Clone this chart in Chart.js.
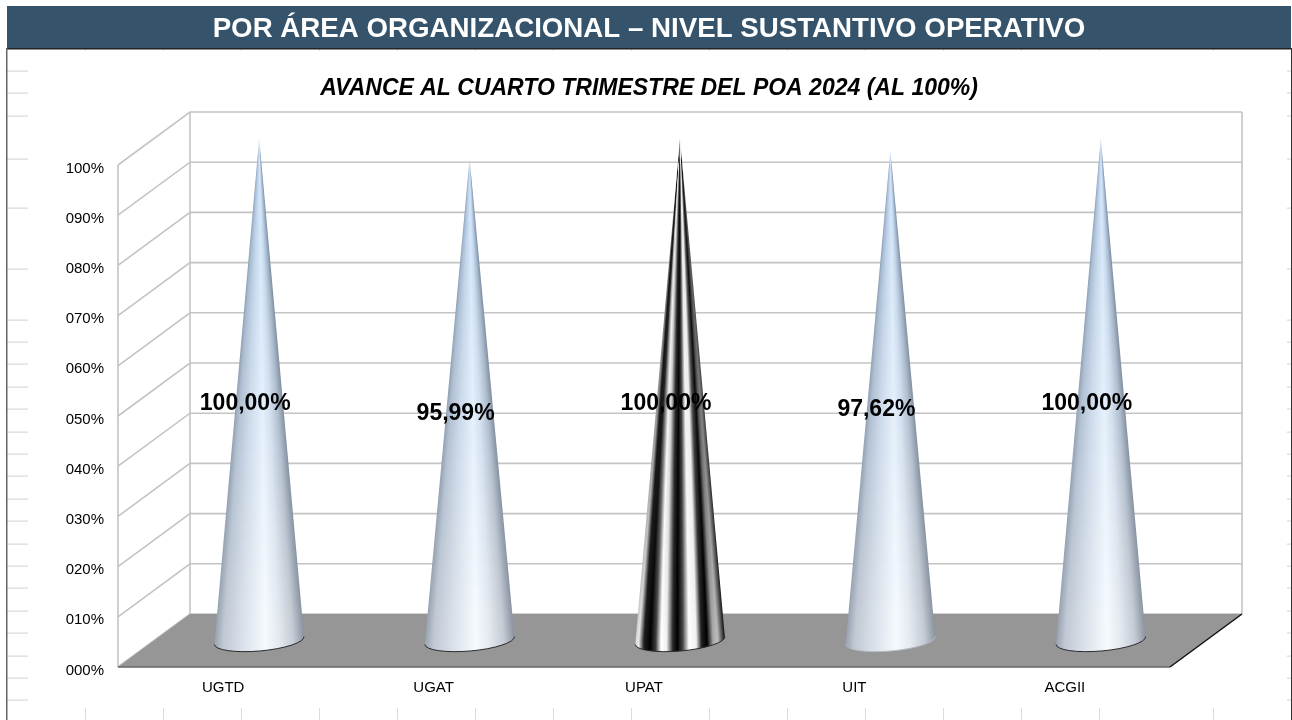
<!DOCTYPE html>
<html>
<head>
<meta charset="utf-8">
<style>
html,body{margin:0;padding:0;background:#fff;overflow:hidden}
canvas{position:absolute;left:6px;top:0;display:block}
</style>
<script src="https://cdn.jsdelivr.net/npm/chart.js@4"></script>
</head>
<body>
<canvas id="c" width="1286" height="720"></canvas>
<script>
const headerTitle = 'POR ÁREA ORGANIZACIONAL – NIVEL SUSTANTIVO OPERATIVO';
const chartTitle = 'AVANCE AL CUARTO TRIMESTRE DEL POA 2024 (AL 100%)';
const categories = ['UGTD', 'UGAT', 'UPAT', 'UIT', 'ACGII'];
const avance = [100, 95.99, 100, 97.62, 100];
const tickLabels = ['000%', '010%', '020%', '030%', '040%', '050%', '060%', '070%', '080%', '090%', '100%'];

const FONT = '"Liberation Sans", Arial, sans-serif';
const DX = 72, DY = 53;
const BASE_RX = 45, BASE_RY = 10.5, TILT = -5 * Math.PI / 180;
const OX = 6; // canvas offset on the page
const sideMarksY = [71,93,116,159,208,269,320,342,364,387,409,432,454,476,499,521,544,566,588,611,633,656,678,700];
const bottomMarksX = [85,163,241,319,397,475,553,631,709,787,865,943,1021,1099,1213];

const bluePos = [0, .1, .3, .57, .72, .88, 1];
const blueTop = [[136,158,182],[160,184,210],[188,210,234],[208,228,250],[190,212,236],[152,174,198],[120,140,162]];
const blueBot = [[150,160,174],[192,200,211],[216,223,232],[246,250,254],[228,233,240],[196,203,212],[140,149,162]];

const stripeTop = [[0,110],[.03,50],[.07,15],[.12,60],[.17,220],[.22,235],[.28,170],[.38,50],[.47,10],[.53,60],[.62,230],[.7,235],[.78,120],[.87,20],[.91,10],[.96,60],[1,110]];
const stripeBot = [[0,200],[.04,235],[.1,30],[.17,0],[.23,60],[.29,255],[.35,240],[.42,40],[.47,0],[.53,70],[.6,255],[.68,240],[.74,30],[.8,0],[.87,170],[.92,190],[1,20]];

function lerp(a, b, t) { return a + (b - a) * t; }

function blueGradient(ctx, x0, x1, t) {
  const g = ctx.createLinearGradient(x0, 0, x1, 0);
  const k = Math.min(1, t * 1.05);
  bluePos.forEach((p, i) => {
    const c = blueTop[i].map((v, j) => Math.round(lerp(v, blueBot[i][j], k)));
    g.addColorStop(p, `rgb(${c[0]},${c[1]},${c[2]})`);
  });
  return g;
}
function stripedGradient(ctx, x0, x1, t) {
  const g = ctx.createLinearGradient(x0, 0, x1, 0);
  const k = t;
  stripeTop.forEach((s, i) => {
    const v = Math.round(lerp(s[1], stripeBot[i][1], k));
    g.addColorStop(lerp(s[0], stripeBot[i][0], k), `rgb(${v},${v},${v})`);
  });
  return g;
}

function drawCone(ctx, bar, striped, outline) {
  const cx = bar.x + DX / 2, cy = bar.base - DY / 2, tip = bar.y - DY / 2;
  const h = cy - tip;
  ctx.save();
  ctx.beginPath();
  ctx.moveTo(cx, tip);
  ctx.ellipse(cx, cy, BASE_RX, BASE_RY, TILT, 0, Math.PI, false);
  ctx.closePath();
  ctx.clip();
  for (let y = Math.floor(tip); y < cy + BASE_RY + 6; y++) {
    const t = Math.min(1, Math.max(0, (y - tip) / h));
    const w = Math.max(1.5, BASE_RX * t);
    ctx.fillStyle = striped ? stripedGradient(ctx, cx - w, cx + w, t) : blueGradient(ctx, cx - w, cx + w, t);
    ctx.fillRect(cx - BASE_RX - 2, y, BASE_RX * 2 + 4, 1);
  }
  ctx.restore();
  ctx.beginPath();
  ctx.ellipse(cx, cy, BASE_RX, BASE_RY, TILT, 0, Math.PI, false);
  ctx.strokeStyle = outline;
  ctx.lineWidth = 1;
  ctx.stroke();
}

const scene = {
  id: 'scene',
  beforeDraw(chart) {
    const ctx = chart.ctx;
    ctx.save();
    ctx.fillStyle = '#fff';
    ctx.fillRect(0, 0, chart.width, chart.height);
    ctx.fillStyle = '#35536a';
    ctx.fillRect(7 - OX, 6, 1284, 42);
    // sheet cell marks
    ctx.fillStyle = '#dcdcdc';
    sideMarksY.forEach(y => {
      ctx.fillRect(7 - OX, y - .5, 21, 1.3);
      ctx.fillRect(1287 - OX, y - .5, 4, 1.3);
    });
    bottomMarksX.forEach(x => {
      ctx.fillRect(x - OX, 708, 1, 12);
      ctx.fillRect(x - OX, 49, 1, 2);
    });
    // frame
    ctx.fillStyle = '#222';
    ctx.fillRect(6 - OX, 48, 1285, 1.5);
    ctx.fillStyle = '#666';
    ctx.fillRect(6 - OX, 48, 1.5, 672);
    ctx.fillStyle = '#333';
    ctx.fillRect(1291 - OX, 48, 1, 672);
    ctx.restore();
  },
  beforeDatasetsDraw(chart) {
    const ctx = chart.ctx, y = chart.scales.y, a = chart.chartArea;
    const L = a.left, R = a.right, T = a.top, B = a.bottom;
    ctx.save();
    ctx.strokeStyle = '#c4c4c4';
    ctx.lineWidth = 1.6;
    y.ticks.forEach(tk => {
      const py = y.getPixelForValue(tk.value);
      ctx.beginPath();
      ctx.moveTo(L, py);
      ctx.lineTo(L + DX, py - DY);
      ctx.lineTo(R + DX, py - DY);
      ctx.stroke();
    });
    ctx.beginPath();
    ctx.moveTo(L, T); ctx.lineTo(L, B);
    ctx.moveTo(L + DX, T - DY); ctx.lineTo(L + DX, B - DY);
    ctx.moveTo(R + DX, T - DY); ctx.lineTo(R + DX, B - DY);
    ctx.stroke();
    // floor
    ctx.fillStyle = '#969696';
    ctx.beginPath();
    ctx.moveTo(L, B); ctx.lineTo(R, B); ctx.lineTo(R + DX, B - DY); ctx.lineTo(L + DX, B - DY);
    ctx.closePath();
    ctx.fill();
    ctx.strokeStyle = '#666';
    ctx.lineWidth = 1.5;
    ctx.beginPath(); ctx.moveTo(L, B); ctx.lineTo(R, B); ctx.stroke();
    ctx.strokeStyle = '#111';
    ctx.beginPath(); ctx.moveTo(R, B); ctx.lineTo(R + DX, B - DY); ctx.stroke();
    ctx.restore();
  },
  afterDatasetsDraw(chart) {
    const ctx = chart.ctx;
    const bars = chart.getDatasetMeta(0).data;
    bars.forEach((bar, i) => {
      const cat = categories[i];
      drawCone(ctx, bar, cat === 'UPAT', cat === 'UIT' ? '#b4bac2' : '#2a2a2a');
    });
    ctx.save();
    ctx.font = 'bold 23px ' + FONT;
    ctx.fillStyle = '#000';
    ctx.textAlign = 'center';
    ctx.textBaseline = 'middle';
    bars.forEach((bar, i) => {
      const cx = bar.x + DX / 2 - 14;
      const my = (bar.y + bar.base) / 2 - DY / 2 + 14.5;
      ctx.fillText(avance[i].toFixed(2).replace('.', ',') + '%', cx, my);
    });
    ctx.restore();
  }
};

new Chart(document.getElementById('c'), {
  type: 'bar',
  data: {
    labels: categories,
    datasets: [{ label: 'Avance', data: avance, backgroundColor: 'rgba(0,0,0,0)', borderWidth: 0, yAxisID: 'y' }]
  },
  plugins: [scene],
  options: {
    responsive: false,
    animation: false,
    devicePixelRatio: 1,
    layout: { padding: 0 },
    plugins: {
      legend: { display: false },
      tooltip: { enabled: false },
      title: {
        display: true,
        text: headerTitle,
        color: '#ffffff',
        font: { family: FONT, size: 27.7, weight: 'bold', lineHeight: 1.2 },
        padding: { top: 12.5, bottom: 18 }
      },
      subtitle: {
        display: true,
        text: chartTitle,
        color: '#000000',
        font: { family: FONT, size: 23, weight: 'bold', style: 'italic', lineHeight: 1.2 },
        padding: { top: 11.46, bottom: 62.2 }
      }
    },
    scales: {
      x: {
        afterFit(s) { s.height = 53; },
        grid: { display: false, drawTicks: false },
        border: { display: false },
        ticks: { color: '#000', font: { family: FONT, size: 15 }, padding: 12, maxRotation: 0 }
      },
      y: {
        min: 0,
        max: 100,
        afterFit(s) { s.width = 112; },
        grid: { display: false, drawTicks: false },
        border: { display: false },
        afterBuildTicks(s) { s.ticks = tickLabels.map((_, i) => ({ value: i * 10 })); },
        ticks: {
          color: '#000',
          font: { family: FONT, size: 15 },
          padding: 14,
          labelOffset: 3.5,
          autoSkip: false,
          callback: (v, i) => tickLabels[i]
        }
      },
      // empty right-hand margin so the titles stay centred on the whole page
      margin: {
        type: 'linear',
        position: 'right',
        display: true,
        afterFit(s) { s.width = 122; },
        grid: { display: false, drawTicks: false },
        border: { display: false },
        ticks: { display: false }
      }
    }
  }
});
</script>
</body>
</html>
